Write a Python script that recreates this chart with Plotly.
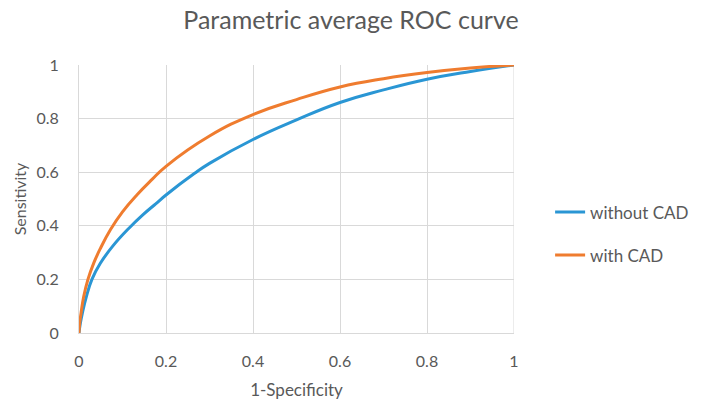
import plotly.graph_objects as go

fpr_without = [0, 0.003, 0.0076, 0.0168, 0.0297, 0.049, 0.078, 0.116, 0.146, 0.177, 0.2, 0.265, 0.3, 0.4, 0.5, 0.6, 0.7, 0.8, 0.9, 1.0]
tpr_without = [0, 0.035, 0.073, 0.135, 0.2, 0.26, 0.325, 0.393, 0.44, 0.483, 0.515, 0.595, 0.633, 0.722, 0.795, 0.86, 0.907, 0.947, 0.976, 1.0]

fpr_with = [0, 0.0018, 0.0046, 0.0107, 0.0206, 0.0336, 0.049, 0.0725, 0.10, 0.133, 0.168, 0.2, 0.3, 0.4, 0.5, 0.6, 0.7, 0.8, 0.9, 1.0]
tpr_with = [0, 0.04, 0.073, 0.135, 0.2, 0.26, 0.315, 0.386, 0.452, 0.515, 0.573, 0.622, 0.735, 0.815, 0.871, 0.918, 0.949, 0.972, 0.989, 1.0]

tick_vals = [0, 0.2, 0.4, 0.6, 0.8, 1]
tick_text = ["0", "0.2", "0.4", "0.6", "0.8", "1"]

FONT = "Lato"
GREY = "#595959"
GRID = "#D9D9D9"

W, H = 703, 411

fig = go.Figure()
fig.add_trace(go.Scatter(x=fpr_without, y=tpr_without, mode="lines", name="without CAD",
                         line=dict(color="#2A96D4", width=3, shape="spline", smoothing=1.3),
                         legendgroup="a"))
fig.add_trace(go.Scatter(x=fpr_with, y=tpr_with, mode="lines", name="with CAD",
                         line=dict(color="#EF7C2F", width=3, shape="spline", smoothing=1.3),
                         legendgroup="b"))

fig.update_layout(
    width=W, height=H,
    margin=dict(l=79, r=189, t=65, b=78, autoexpand=False),
    paper_bgcolor="white", plot_bgcolor="white",
    font=dict(family=FONT, color=GREY, size=16),
    title=dict(text="Parametric average ROC curve", x=351 / W, xanchor="center",
               y=1 - 20 / H, yanchor="middle",
               font=dict(size=25, color=GREY, family=FONT)),
    legend=dict(x=1.083, xanchor="left", y=0.37, yanchor="middle", tracegroupgap=18,
                font=dict(size=17, color=GREY), itemwidth=30, bgcolor="rgba(0,0,0,0)"),
    xaxis=dict(range=[0, 1], tickvals=tick_vals, ticktext=tick_text, showgrid=True, gridcolor=GRID,
               gridwidth=1, zeroline=False, showline=True, linecolor=GRID, linewidth=1,
               ticks="", ticklabelstandoff=14, automargin=False,
               title=dict(text="1-Specificity", font=dict(size=17, color=GREY), standoff=14)),
    yaxis=dict(range=[0, 1], tickvals=tick_vals, ticktext=tick_text, showgrid=True, gridcolor=GRID,
               gridwidth=1, zeroline=False, showline=True, linecolor=GRID, linewidth=1,
               ticks="", ticklabelstandoff=16, automargin=False,
               title=dict(text="Sensitivity", font=dict(size=16, color=GREY), standoff=5)),
)
fig.add_shape(type="line", xref="x", yref="y", x0=1, x1=1, y0=0, y1=1,
              line=dict(color=GRID, width=1), layer="below")

# remove the default 8px page margin so the figure fills the 703x411 window exactly
fig.write_html("out.html", config={"displayModeBar": False},
               post_script="document.body.style.margin='0';")
